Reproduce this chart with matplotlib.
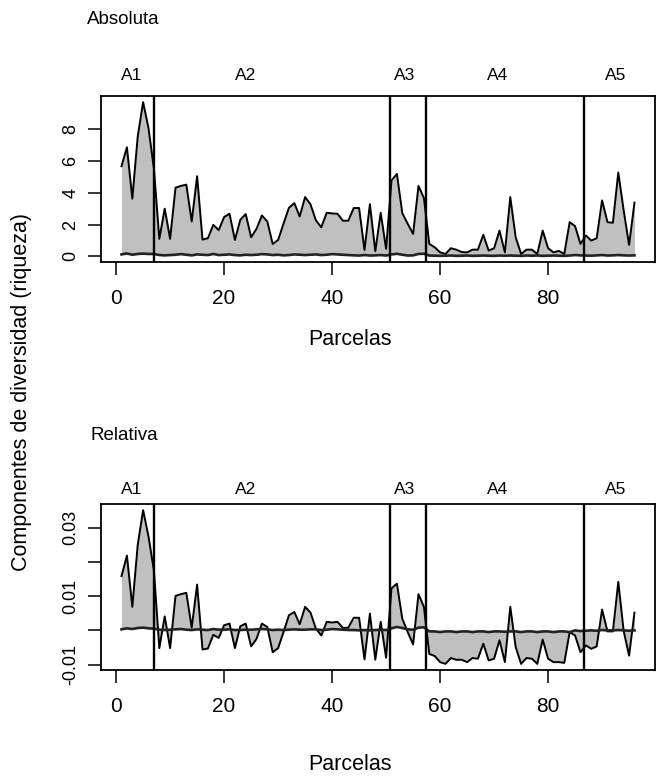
import matplotlib
matplotlib.use("Agg")
import matplotlib.pyplot as plt
import numpy as np

plt.rcParams['font.family'] = ['Liberation Sans', 'DejaVu Sans']

# ---------------- data ----------------
parcelas = list(range(1, 97))

abs_total = [5.67, 6.86, 3.63, 7.53, 9.70, 8.06, 5.50,
             1.10, 3.00, 1.10, 4.32, 4.43, 4.51, 2.19, 5.04, 1.05, 1.14,
             1.98, 1.65, 2.47, 2.68, 1.03, 2.30, 2.66, 1.20, 1.73, 2.57,
             2.19, 0.78, 1.03, 2.05, 3.05, 3.35, 2.51, 3.73, 3.27, 2.26,
             1.83, 2.74, 2.70, 2.68, 2.24, 2.24, 3.04, 3.04, 0.40, 3.28,
             0.32, 2.74, 0.47,
             4.77, 5.19, 2.72, 2.05, 1.41, 4.43, 3.67,
             0.78, 0.57, 0.25, 0.15, 0.51, 0.42, 0.27, 0.25, 0.42, 0.42,
             1.35, 0.36, 0.51, 1.62, 0.25, 3.73, 1.20, 0.15, 0.42, 0.42,
             0.15, 1.62, 0.51, 0.25, 0.34, 0.15, 2.15, 1.90, 0.78,
             1.31, 0.99, 1.14, 3.52, 2.15, 2.11, 5.27, 2.89, 0.72, 3.38]

abs_comp = [0.12, 0.18, 0.10, 0.15, 0.17, 0.15, 0.15,
            0.08, 0.06, 0.08, 0.10, 0.14, 0.10, 0.06, 0.12, 0.10, 0.08,
            0.15, 0.08, 0.10, 0.12, 0.08, 0.06, 0.10, 0.08, 0.10, 0.14,
            0.12, 0.08, 0.10, 0.06, 0.08, 0.12, 0.10, 0.08, 0.10, 0.12,
            0.08, 0.10, 0.14, 0.12, 0.10, 0.08, 0.06, 0.05, 0.08, 0.05,
            0.06, 0.08, 0.05,
            0.12, 0.16, 0.10, 0.05, 0.06, 0.15, 0.16,
            0.05, 0.04, 0.03, 0.04, 0.05, 0.03, 0.04, 0.05, 0.03, 0.04,
            0.05, 0.04, 0.03, 0.05, 0.04, 0.05, 0.04, 0.03, 0.05, 0.04,
            0.05, 0.03, 0.04, 0.05, 0.04, 0.03, 0.05, 0.08, 0.06,
            0.05, 0.04, 0.06, 0.08, 0.05, 0.06, 0.08, 0.06, 0.05, 0.06]

rel_total = [0.0159, 0.0219, 0.0069, 0.0250, 0.0352, 0.0275, 0.0175,
             -0.0052, 0.0041, -0.0052, 0.0101, 0.0106, 0.0110, 0.0008, 0.0134, -0.0056, -0.0053,
             -0.0013, -0.0022, 0.0015, 0.0020, -0.0052, 0.0012, 0.0020, -0.0047, -0.0025, 0.0020,
             0.0010, -0.0064, -0.0052, -0.0005, 0.0044, 0.0054, 0.0018, 0.0069, 0.0052, 0.0005,
             -0.0015, 0.0025, 0.0023, 0.0025, 0.0007, 0.0008, 0.0037, 0.0037, -0.0085, 0.0049,
             -0.0086, 0.0025, -0.0080,
             0.0123, 0.0137, 0.0034, -0.0005, -0.0041, 0.0106, 0.0069,
             -0.0069, -0.0075, -0.0093, -0.0098, -0.0081, -0.0086, -0.0086, -0.0093, -0.0081, -0.0083,
             -0.0039, -0.0088, -0.0083, -0.0029, -0.0093, 0.0069, -0.0049, -0.0098, -0.0081, -0.0083,
             -0.0098, -0.0027, -0.0083, -0.0093, -0.0093, -0.0095, -0.0005, -0.0015, -0.0064,
             -0.0044, -0.0054, -0.0047, 0.0061, -0.0003, -0.0003, 0.0142, -0.0002, -0.0074, 0.0052]

rel_comp = [0.0003, 0.0006, 0.0004, 0.0007, 0.0008, 0.0006, 0.0005,
            0.0002, 0.0001, 0.0002, 0.0003, 0.0004, 0.0002, 0.0001, 0.0003, 0.0002, 0.0001,
            0.0004, 0.0002, 0.0002, 0.0003, 0.0001, 0.0001, 0.0002, 0.0002, 0.0003, 0.0004,
            0.0003, 0.0001, 0.0002, 0.0001, 0.0002, 0.0003, 0.0002, 0.0002, 0.0003, 0.0003,
            0.0001, 0.0002, 0.0004, 0.0003, 0.0002, 0.0001, 0.0001, 0.0000, 0.0001, 0.0000,
            0.0001, 0.0002, 0.0001,
            0.0006, 0.0010, 0.0007, 0.0003, 0.0002, 0.0008, 0.0009,
            -0.0003, -0.0003, -0.0005, -0.0003, -0.0003, -0.0005, -0.0003, -0.0003, -0.0005, -0.0003,
            -0.0003, -0.0005, -0.0003, -0.0003, -0.0004, -0.0003, -0.0003, -0.0005, -0.0003, -0.0003,
            -0.0005, -0.0003, -0.0003, -0.0005, -0.0003, -0.0003, -0.0005, 0.0000, -0.0002,
            -0.0001, 0.0000, -0.0001, 0.0001, 0.0000, 0.0000, 0.0001, 0.0000, -0.0001, 0.0000]

boundaries = [7.0, 50.65, 57.3, 86.7]
region_labels = ['A1', 'A2', 'A3', 'A4', 'A5']
region_label_x = [2.8, 23.9, 53.4, 70.6, 92.5]

x_ticks = [0, 20, 40, 60, 80]
abs_yticks = [0, 2, 4, 6, 8]
abs_yticklabels = ['0', '2', '4', '6', '8']
rel_yticks = [-0.01, 0.0, 0.01, 0.02, 0.03]
rel_yticklabels = ['-0.01', '', '0.01', '', '0.03']

panel_titles = ['Absoluta', 'Relativa']
xlabel = 'Parcelas'
ylabel = 'Componentes de diversidad (riqueza)'

# ---------------- layout ----------------
W, H = 662, 781
fig = plt.figure(figsize=(W / 100, H / 100), dpi=100)


def rect(l, t, r, b):
    return [l / W, 1 - b / H, (r - l) / W, (b - t) / H]


FILL = '#c0c0c0'


def panel(ax, total, comp, yticks, yticklabels):
    x = np.array(parcelas)
    t = np.array(total)
    c = np.array(comp)
    ax.fill_between(x, t, c, color=FILL, lw=0, zorder=1)
    ax.plot(x, t, color='black', lw=1.4, zorder=3)
    ax.plot(x, c, color='#222222', lw=1.9, zorder=3)
    for b in boundaries:
        ax.axvline(b, color='black', lw=1.7, zorder=4)
    lo = min(t.min(), c.min())
    hi = max(t.max(), c.max())
    pad = 0.04 * (hi - lo)
    ax.set_ylim(lo - pad, hi + pad)
    xpad = 0.04 * (x.max() - x.min())
    ax.set_xlim(x.min() - xpad, x.max() + xpad)
    ax.set_xticks(x_ticks)
    ax.set_xticklabels([str(v) for v in x_ticks])
    ax.set_yticks(yticks)
    ax.set_yticklabels(yticklabels, rotation=90, va='center')
    ax.tick_params(axis='x', length=9.5, width=1.1, labelsize=15, pad=10)
    ax.tick_params(axis='y', length=9.5, width=1.1, labelsize=13, pad=6)
    for s in ax.spines.values():
        s.set_linewidth(1.3)


ax1 = fig.add_axes(rect(101, 96, 655, 262))
panel(ax1, abs_total, abs_comp, abs_yticks, abs_yticklabels)
ax2 = fig.add_axes(rect(101, 504, 655, 670))
panel(ax2, rel_total, rel_comp, rel_yticks, rel_yticklabels)

# region labels (placed above each box)
for ax, ypix in [(ax1, 75), (ax2, 490)]:
    for lab, xv in zip(region_labels, region_label_x):
        xd = ax.transData.transform((xv, 0))[0]
        fig.text(xd / W, 1 - ypix / H, lab, ha='center', va='center', fontsize=12.5)

fig.text(87 / W, 1 - 20 / H, panel_titles[0], ha='left', va='center', fontsize=13.5)
fig.text(91 / W, 1 - 435 / H, panel_titles[1], ha='left', va='center', fontsize=13.5)
fig.text(350 / W, 1 - 340 / H, xlabel, ha='center', va='center', fontsize=15.5)
fig.text(350 / W, 1 - 765 / H, xlabel, ha='center', va='center', fontsize=15.5)
fig.text(22 / W, 1 - 392 / H, ylabel, ha='center', va='center', rotation=90, fontsize=15.5)

fig.savefig('out.png', dpi=100, facecolor='white')
